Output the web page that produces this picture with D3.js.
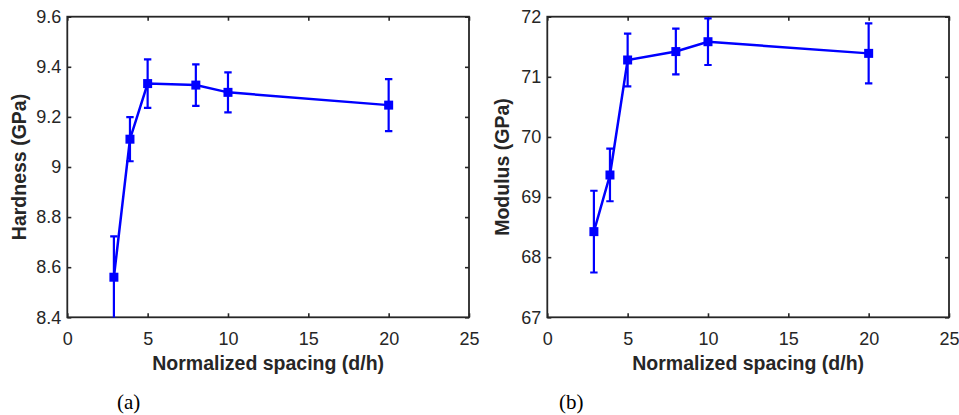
<!DOCTYPE html>
<html>
<head>
<meta charset="utf-8">
<script src="https://cdn.jsdelivr.net/npm/d3@7"></script>
<style>
  body { margin: 0; background: #fff; }
  svg { display: block; }
</style>
</head>
<body>
<div id="chart"></div>
<script>
// data
const spacing = [2.9, 3.9, 5, 8, 10, 20];
const hardness = [8.56, 9.111, 9.333, 9.327, 9.298, 9.247];
const hardnessErr = [0.163, 0.088, 0.097, 0.083, 0.08, 0.104];
const modulus = [68.425, 69.367, 71.28, 71.42, 71.584, 71.39];
const modulusErr = [0.68, 0.437, 0.438, 0.38, 0.387, 0.5];

const xTicks = [0, 5, 10, 15, 20, 25];
const hardnessTicks = [8.4, 8.6, 8.8, 9, 9.2, 9.4, 9.6];
const modulusTicks = [67, 68, 69, 70, 71, 72];

const W = 959, H = 415;
const svg = d3.select("#chart").append("svg")
    .attr("width", W)
    .attr("height", H);

svg.append("rect").attr("width", W).attr("height", H).attr("fill", "#fff");

const axisColor = "#262626";
const blue = "#0000ff";
const sans = "'Liberation Sans', Arial, Helvetica, sans-serif";

function drawPanel(opts) {
    const left = opts.left, top = 16.7, width = 401.7, height = 300.6;
    const g = svg.append("g").attr("transform", `translate(${left},${top})`);

    const x = d3.scaleLinear().domain([0, 25]).range([0, width]);
    const y = d3.scaleLinear().domain(opts.domain).range([height, 0]);

    const clipId = "clip-" + opts.id;
    g.append("clipPath").attr("id", clipId)
        .append("rect").attr("width", width).attr("height", height);

    // axes (inward ticks on all four sides, MATLAB box style)
    const xAxis = g.append("g")
        .attr("transform", `translate(0,${height})`)
        .call(d3.axisBottom(x).tickValues(xTicks).tickFormat(d => String(d)).tickSize(-4).tickSizeOuter(0));
    xAxis.selectAll("text").attr("y", 28).attr("dy", 0);

    g.append("g")
        .call(d3.axisTop(x).tickValues(xTicks).tickFormat("").tickSize(-4).tickSizeOuter(0));

    g.append("g")
        .call(d3.axisLeft(y).tickValues(opts.ticks).tickFormat(d => String(d)).tickSize(-4).tickSizeOuter(0).tickPadding(6));

    g.append("g")
        .attr("transform", `translate(${width},0)`)
        .call(d3.axisRight(y).tickValues(opts.ticks).tickFormat("").tickSize(-4).tickSizeOuter(0));

    g.selectAll(".domain").remove();
    g.selectAll(".tick line").attr("stroke", axisColor).attr("stroke-width", 1.6);
    g.selectAll(".tick text")
        .attr("fill", axisColor)
        .style("font-family", sans)
        .style("font-size", "18px");

    g.append("rect")
        .attr("width", width).attr("height", height)
        .attr("fill", "none")
        .attr("stroke", axisColor)
        .attr("stroke-width", 1.8);

    // series
    const pts = spacing.map((s, i) => ({ x: s, v: opts.values[i], e: opts.errors[i] }));
    const plot = g.append("g").attr("clip-path", `url(#${clipId})`);

    const cap = 3.7;
    const bars = plot.selectAll(".err").data(pts).enter().append("g").attr("class", "err")
        .attr("stroke", blue).attr("stroke-width", 2.2).attr("fill", "none");
    bars.append("line")
        .attr("x1", d => x(d.x)).attr("x2", d => x(d.x))
        .attr("y1", d => y(d.v - d.e)).attr("y2", d => y(d.v + d.e));
    bars.append("line")
        .attr("x1", d => x(d.x) - cap).attr("x2", d => x(d.x) + cap)
        .attr("y1", d => y(d.v + d.e)).attr("y2", d => y(d.v + d.e));
    bars.append("line")
        .attr("x1", d => x(d.x) - cap).attr("x2", d => x(d.x) + cap)
        .attr("y1", d => y(d.v - d.e)).attr("y2", d => y(d.v - d.e));

    const line = d3.line().x(d => x(d.x)).y(d => y(d.v));
    plot.append("path").datum(pts)
        .attr("fill", "none")
        .attr("stroke", blue)
        .attr("stroke-width", 2.5)
        .attr("d", line);

    plot.selectAll(".mk").data(pts).enter().append("rect")
        .attr("x", d => x(d.x) - 4.5).attr("y", d => y(d.v) - 4.5)
        .attr("width", 9).attr("height", 9)
        .attr("fill", blue);

    // labels
    g.append("text")
        .attr("x", width / 2).attr("y", 353.3)
        .attr("text-anchor", "middle")
        .attr("fill", axisColor)
        .style("font-family", sans)
        .style("font-size", "19.5px").style("font-weight", "bold")
        .text("Normalized spacing (d/h)");

    g.append("text")
        .attr("transform", `translate(${opts.ylabelX - left},${height / 2}) rotate(-90)`)
        .attr("text-anchor", "middle")
        .attr("fill", axisColor)
        .style("font-family", sans)
        .style("font-size", "19.5px").style("font-weight", "bold")
        .text(opts.ylabel);

    svg.append("text")
        .attr("x", opts.captionX).attr("y", 409)
        .attr("fill", "#000")
        .style("font-family", "'Liberation Serif', 'Times New Roman', serif")
        .style("font-size", "21px")
        .text(opts.caption);
}

drawPanel({ id: "a", left: 67.3, domain: [8.4, 9.6], ticks: hardnessTicks,
    values: hardness, errors: hardnessErr, ylabel: "Hardness (GPa)", ylabelX: 26, caption: "(a)", captionX: 117 });
drawPanel({ id: "b", left: 547.3, domain: [67, 72], ticks: modulusTicks,
    values: modulus, errors: modulusErr, ylabel: "Modulus (GPa)", ylabelX: 509, caption: "(b)", captionX: 559 });
</script>
</body>
</html>
